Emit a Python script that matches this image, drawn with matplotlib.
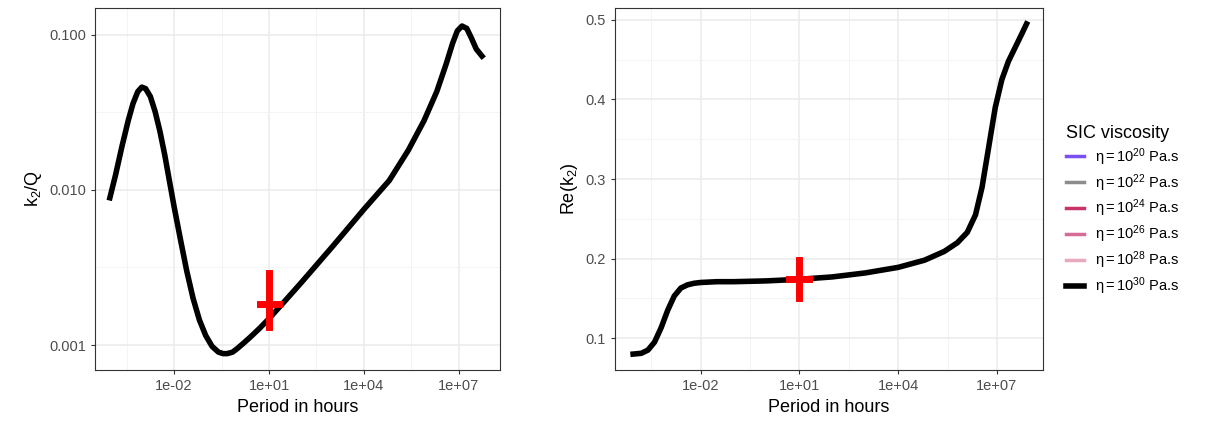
import numpy as np
import matplotlib.pyplot as plt
from matplotlib.lines import Line2D

plt.rcParams['font.family'] = ['Liberation Sans', 'DejaVu Sans']
plt.rcParams['mathtext.fontset'] = 'custom'
plt.rcParams['mathtext.rm'] = 'Liberation Sans'
plt.rcParams['mathtext.it'] = 'Liberation Sans'

# left panel: log10(period), k2/Q
lx = [-4.03, -3.85, -3.65, -3.45, -3.3, -3.15, -3.02, -2.9, -2.75, -2.6, -2.45, -2.3, -2.15, -2.0, -1.8, -1.6, -1.4, -1.2, -1.0, -0.8, -0.6, -0.45, -0.32, -0.15, 0.0, 0.2, 0.4, 0.7, 1.0, 1.5, 2.0, 3.0, 4.0, 4.8, 5.4, 5.9, 6.3, 6.6, 6.8, 6.95, 7.1, 7.25, 7.4, 7.55, 7.73]
ly = [0.0089, 0.0125, 0.019, 0.028, 0.036, 0.043, 0.046, 0.045, 0.04, 0.032, 0.024, 0.017, 0.0115, 0.0078, 0.0048, 0.003, 0.002, 0.00145, 0.00115, 0.00098, 0.0009, 0.00088, 0.00088, 0.0009, 0.00095, 0.00103, 0.00112, 0.00128, 0.00148, 0.00192, 0.0025, 0.0043, 0.0075, 0.0115, 0.018, 0.028, 0.043, 0.065, 0.088, 0.106, 0.114, 0.11, 0.095, 0.081, 0.073]
# right panel: log10(period), Re(k2)
rx = [-4.05, -3.8, -3.6, -3.4, -3.2, -3.0, -2.8, -2.6, -2.4, -2.2, -2.0, -1.5, -1.0, 0.0, 1.0, 2.0, 3.0, 4.0, 4.8, 5.4, 5.8, 6.1, 6.35, 6.55, 6.75, 6.95, 7.15, 7.35, 7.55, 7.75, 7.9]
ry = [0.08, 0.081, 0.085, 0.095, 0.113, 0.135, 0.153, 0.163, 0.167, 0.169, 0.17, 0.171, 0.171, 0.172, 0.174, 0.177, 0.182, 0.189, 0.198, 0.209, 0.22, 0.233, 0.255, 0.29, 0.34, 0.39, 0.425, 0.448, 0.465, 0.482, 0.495]
cross_left = (10.0, 0.00185, 0.0013, 0.0029)
cross_right = (10.0, 0.174, 0.15, 0.198)
legend_exp = [20, 22, 24, 26, 28, 30]
legend_colors = ['#7B4FF0', '#8C8C8C', '#C8336A', '#D86A98', '#E8A8C0', '#000000']

fig = plt.figure(figsize=(12.12, 4.22), dpi=100)
W, H = 1212, 422
axL = fig.add_axes([95/W, 1-370/H, 405/W, 362/H])
axR = fig.add_axes([615/W, 1-370/H, 428/W, 362/H])

def style(ax):
    for s in ax.spines.values():
        s.set_color('#333333'); s.set_linewidth(0.8)
    ax.tick_params(which='both', colors='#333333', labelcolor='#4D4D4D', labelsize=10.5, length=3)
    ax.tick_params(which='minor', length=0)
    ax.grid(which='major', color='#EBEBEB', lw=1.1)
    ax.grid(which='minor', color='#F3F3F3', lw=0.6)
    ax.set_axisbelow(True)

# Left
axL.set_xscale('log'); axL.set_yscale('log')
axL.plot(10**np.array(lx), ly, color='k', lw=4, solid_joinstyle='round')
axL.plot([cross_left[0]]*2, cross_left[2:], color='red', lw=5)
axL.plot([10**0.7, 10**1.3], [cross_left[1]]*2, color='red', lw=5)
axL.set_xlim(10**-4.5, 10**8.3); axL.set_ylim(0.00069, 0.149)
axL.set_xticks([1e-2, 1e1, 1e4, 1e7]); axL.set_xticklabels(['1e-02', '1e+01', '1e+04', '1e+07'])
axL.set_xticks([10**v for v in [-3.5, -0.5, 2.5, 5.5]], minor=True)
axL.set_yticks([0.001, 0.01, 0.1]); axL.set_yticklabels(['0.001', '0.010', '0.100'])
axL.set_yticks([10**-2.5, 10**-1.5], minor=True); axL.yaxis.set_minor_formatter(plt.NullFormatter())
axL.xaxis.set_minor_formatter(plt.NullFormatter())
axL.set_xlabel('Period in hours', fontsize=13)
axL.set_ylabel('k$_2$/Q', fontsize=13)
style(axL)

# Right
axR.set_xscale('log')
axR.plot(10**np.array(rx), ry, color='k', lw=4, solid_joinstyle='round')
axR.plot([cross_right[0]]*2, cross_right[2:], color='red', lw=5)
axR.plot([10**0.7, 10**1.3], [cross_right[1]]*2, color='red', lw=5)
axR.set_xlim(10**-4.6, 10**8.4); axR.set_ylim(0.06, 0.515)
axR.set_xticks([1e-2, 1e1, 1e4, 1e7]); axR.set_xticklabels(['1e-02', '1e+01', '1e+04', '1e+07'])
axR.set_xticks([10**v for v in [-3.5, -0.5, 2.5, 5.5]], minor=True)
axR.xaxis.set_minor_formatter(plt.NullFormatter())
axR.set_yticks([0.1, 0.2, 0.3, 0.4, 0.5])
axR.set_yticks([0.15, 0.25, 0.35, 0.45], minor=True)
axR.set_xlabel('Period in hours', fontsize=13)
axR.set_ylabel('Re(k$_2$)', fontsize=13)
style(axR)

handles = [Line2D([], [], color=c, lw=2.5 if c != '#000000' else 4) for c in legend_colors]
labels = [r'$\eta = 10^{%d}$ Pa.s' % e for e in legend_exp]
fig.legend(handles, labels, title='SIC viscosity', loc='center left', bbox_to_anchor=(1053/W, 0.5),
           frameon=False, fontsize=10.5, title_fontsize=13, handlelength=1.2, labelspacing=0.3,
           alignment='left')
fig.savefig('out.png', dpi=100)
